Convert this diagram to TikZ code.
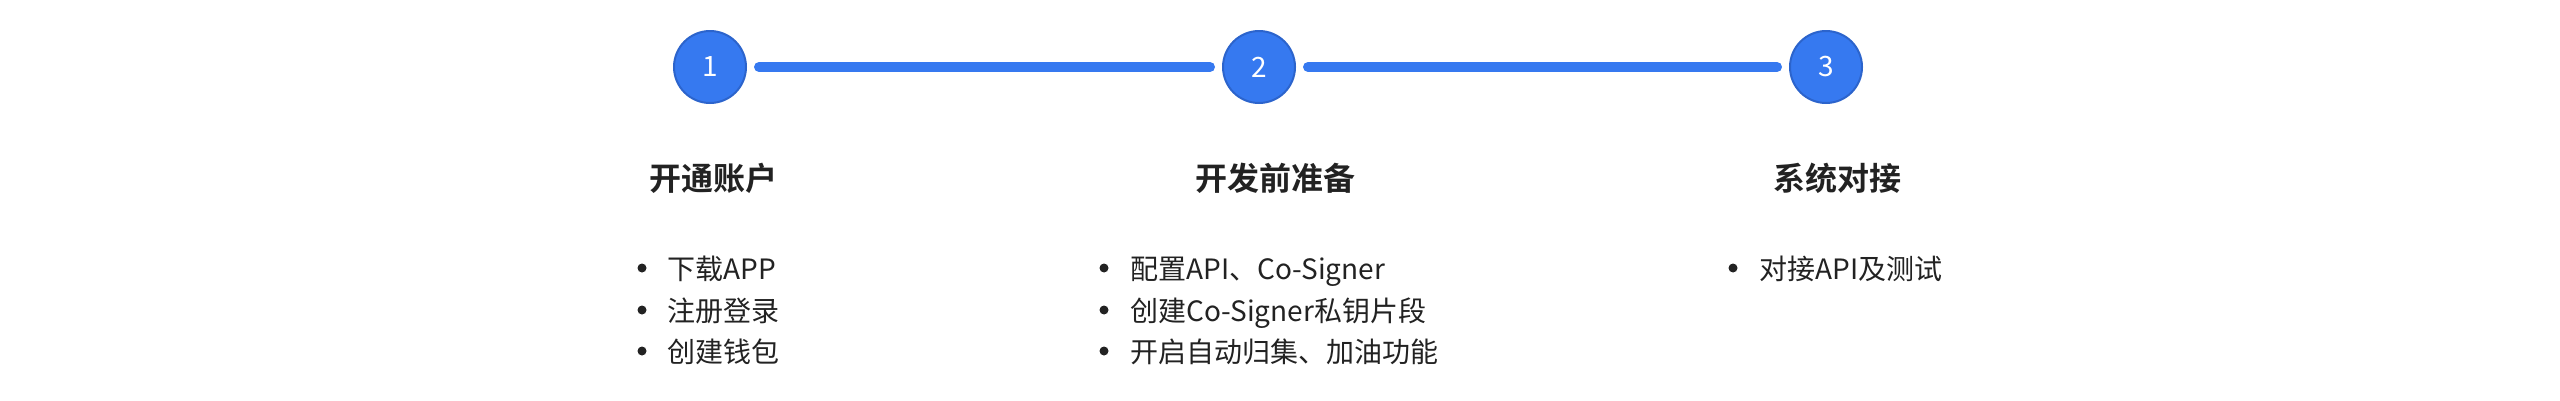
\documentclass[tikz,border=0pt]{standalone}
\usepackage{fontspec}
\setmainfont{Noto Sans CJK SC}[BoldFont={Noto Sans CJK SC Bold}]
\definecolor{stepblue}{HTML}{3679F0}
\definecolor{stepedge}{HTML}{2C64CC}
\definecolor{txt}{HTML}{222222}
\tikzset{
  stepnode/.style={circle, minimum size=54pt, inner sep=0pt, fill=stepblue, draw=stepedge, line width=1.5pt, text=white, font=\fontsize{21}{21}\selectfont},
  conn/.style={draw=stepblue, line width=7.5pt, line cap=round, shorten >=9pt, shorten <=9pt},
  titlenode/.style={anchor=base, inner sep=0pt, text=txt, font=\fontsize{24}{24}\selectfont\bfseries},
  itemnode/.style={anchor=base west, inner sep=0pt, text=txt, font=\fontsize{21}{21}\selectfont},
  dotnode/.style={circle, fill=txt, inner sep=0pt, minimum size=6.75pt}
}
\begin{document}
\begin{tikzpicture}[x=0.75pt,y=-0.75pt]
\useasboundingbox (0,0) rectangle (2560,400);
% steps
\node[stepnode] (c1) at (710,67) {1};
\node[stepnode] (c2) at (1259,67) {2};
\node[stepnode] (c3) at (1826,67) {3};
\draw[conn] (c1) -- (c2);
\draw[conn] (c2) -- (c3);
% titles
\node[titlenode] (t1) at (713,190) {开通账户};
\node[titlenode] (t2) at (1275,190) {开发前准备};
\node[titlenode] (t3) at (1837,190) {系统对接};
% column 1
\node[dotnode] (d11) at (642,268) {};
\node[dotnode] (d12) at (642,310) {};
\node[dotnode] (d13) at (642,351) {};
\node[itemnode] (i11) at (667,279) {下载APP};
\node[itemnode] (i12) at (667,321) {注册登录};
\node[itemnode] (i13) at (667,362) {创建钱包};
% column 2
\node[dotnode] (d21) at (1104,268) {};
\node[dotnode] (d22) at (1104,310) {};
\node[dotnode] (d23) at (1104,351) {};
\node[itemnode] (i21) at (1130,279) {配置API、Co-Signer};
\node[itemnode] (i22) at (1130,321) {创建Co-Signer私钥片段};
\node[itemnode] (i23) at (1130,362) {开启自动归集、加油功能};
% column 3
\node[dotnode] (d31) at (1733,268) {};
\node[itemnode] (i31) at (1759,279) {对接API及测试};
\end{tikzpicture}
\end{document}
